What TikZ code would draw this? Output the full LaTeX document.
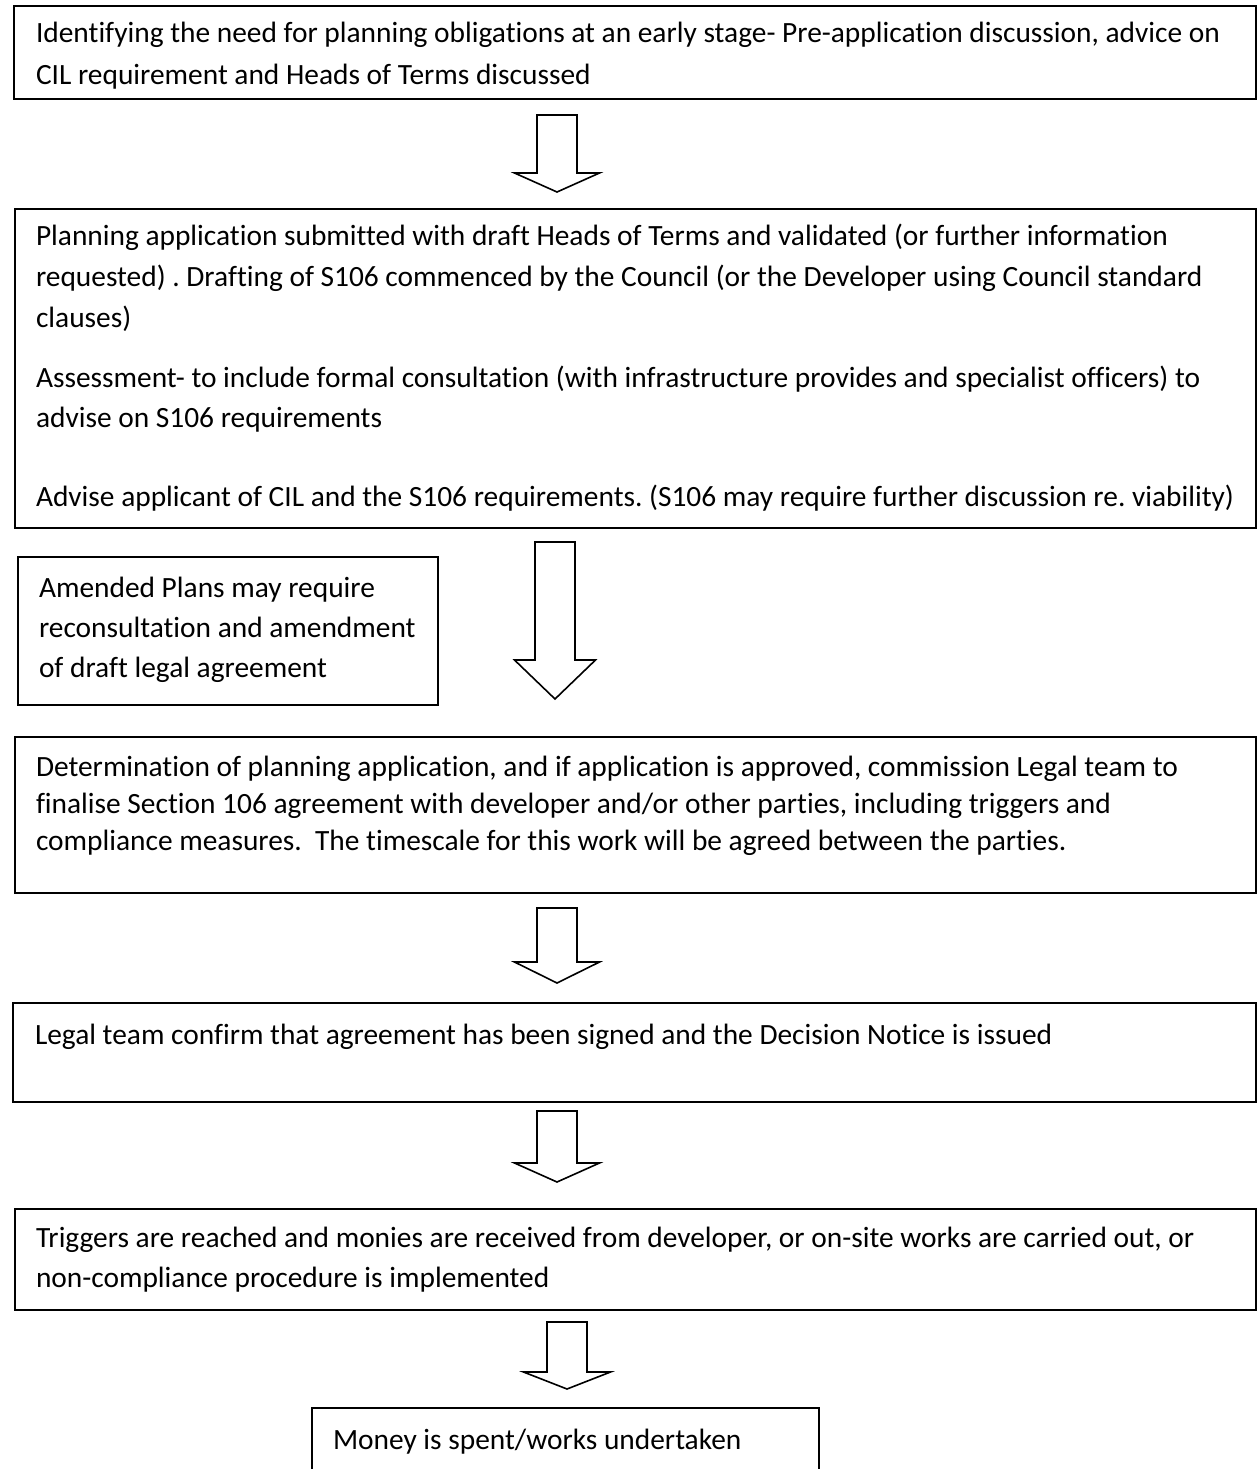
\documentclass[tikz,border=0pt]{standalone}
\usepackage{fontspec}
\setmainfont{Carlito}[Ligatures={NoCommon}]
\frenchspacing
\tikzset{
  boxframe/.style={draw, line width=2.2pt, inner sep=0pt, outer sep=0pt, anchor=north west},
  arrowline/.style={draw, line width=1.6pt, line join=miter},
  txt/.style={anchor=base west, inner sep=0pt, outer sep=0pt, font=\fontsize{29.4}{36}\selectfont},
}
\newcommand\blockarrowdown[6]{% cx, top, base, tip, half shaft, half head
  \draw[arrowline] ({#1-#5},#2) -- ({#1+#5},#2) -- ({#1+#5},#3) -- ({#1+#6},#3)
    -- (#1,#4) -- ({#1-#6},#3) -- ({#1-#5},#3) -- cycle;}
\begin{document}
\begin{tikzpicture}[x=1pt,y=-1pt]
\useasboundingbox (0,0) rectangle (1257,1469);

% Box 1
\node[boxframe, minimum width=1242.5pt, minimum height=93pt] (b1) at (14,6) {};
\node[txt] (t1a) at (36,43) {Identifying the need for planning obligations at an early stage- Pre-application discussion, advice on};
\node[txt] (t1b) at (36,85) {CIL requirement and Heads of Terms discussed};

\blockarrowdown{557}{115}{173}{192}{20}{42.5}

% Box 2
\node[boxframe, minimum width=1241.5pt, minimum height=319pt] (b2) at (15,209) {};
\node[txt] (t2a) at (36,245) {Planning application submitted with draft Heads of Terms and validated (or further information};
\node[txt] (t2b) at (36,286) {requested) . Drafting of S106 commenced by the Council (or the Developer using Council standard};
\node[txt] (t2c) at (36,327) {clauses)};
\node[txt] (t2d) at (36,387) {Assessment- to include formal consultation (with infrastructure provides and specialist officers) to};
\node[txt] (t2e) at (36,427) {advise on S106 requirements};
\node[txt] (t2f) at (36,506) {Advise applicant of CIL and the S106 requirements. (S106 may require further discussion re. viability)};

% Amended plans box
\node[boxframe, minimum width=420pt, minimum height=148pt] (am) at (18,557) {};
\node[txt] (ta) at (39,597) {Amended Plans may require};
\node[txt] (tb) at (39,637) {reconsultation and amendment};
\node[txt] (tc) at (39,677) {of draft legal agreement};

\blockarrowdown{555}{542}{660}{699}{20}{40.5}

% Box 3
\node[boxframe, minimum width=1241.5pt, minimum height=156pt] (b3) at (15,737) {};
\node[txt] (t3a) at (36,776) {Determination of planning application, and if application is approved, commission Legal team to};
\node[txt] (t3b) at (36,813) {finalise Section 106 agreement with developer and/or other parties, including triggers and};
\node[txt] (t3c) at (36,850) {compliance measures.\ \ The timescale for this work will be agreed between the parties.};

\blockarrowdown{557}{908}{962}{983}{20}{42.5}

% Box 4
\node[boxframe, minimum width=1243.5pt, minimum height=99pt] (b4) at (13,1003) {};
\node[txt] (t4a) at (35,1044) {Legal team confirm that agreement has been signed and the Decision Notice is issued};

\blockarrowdown{557}{1111}{1163}{1182}{20}{42.5}

% Box 5
\node[boxframe, minimum width=1241.5pt, minimum height=101pt] (b5) at (15,1209) {};
\node[txt] (t5a) at (36,1247) {Triggers are reached and monies are received from developer, or on-site works are carried out, or};
\node[txt] (t5b) at (36,1287) {non-compliance procedure is implemented};

\blockarrowdown{567}{1322}{1372}{1389}{20}{43.5}

% Box 6 (cut off at the bottom)
\coordinate (b6sw) at (312,1475);
\coordinate (b6nw) at (312,1408);
\coordinate (b6ne) at (819,1408);
\coordinate (b6se) at (819,1475);
\draw[line width=2.2pt] (b6sw) -- (b6nw) -- (b6ne) -- (b6se);
\node[txt] (t6a) at (333,1449) {Money is spent/works undertaken};
\end{tikzpicture}
\end{document}
